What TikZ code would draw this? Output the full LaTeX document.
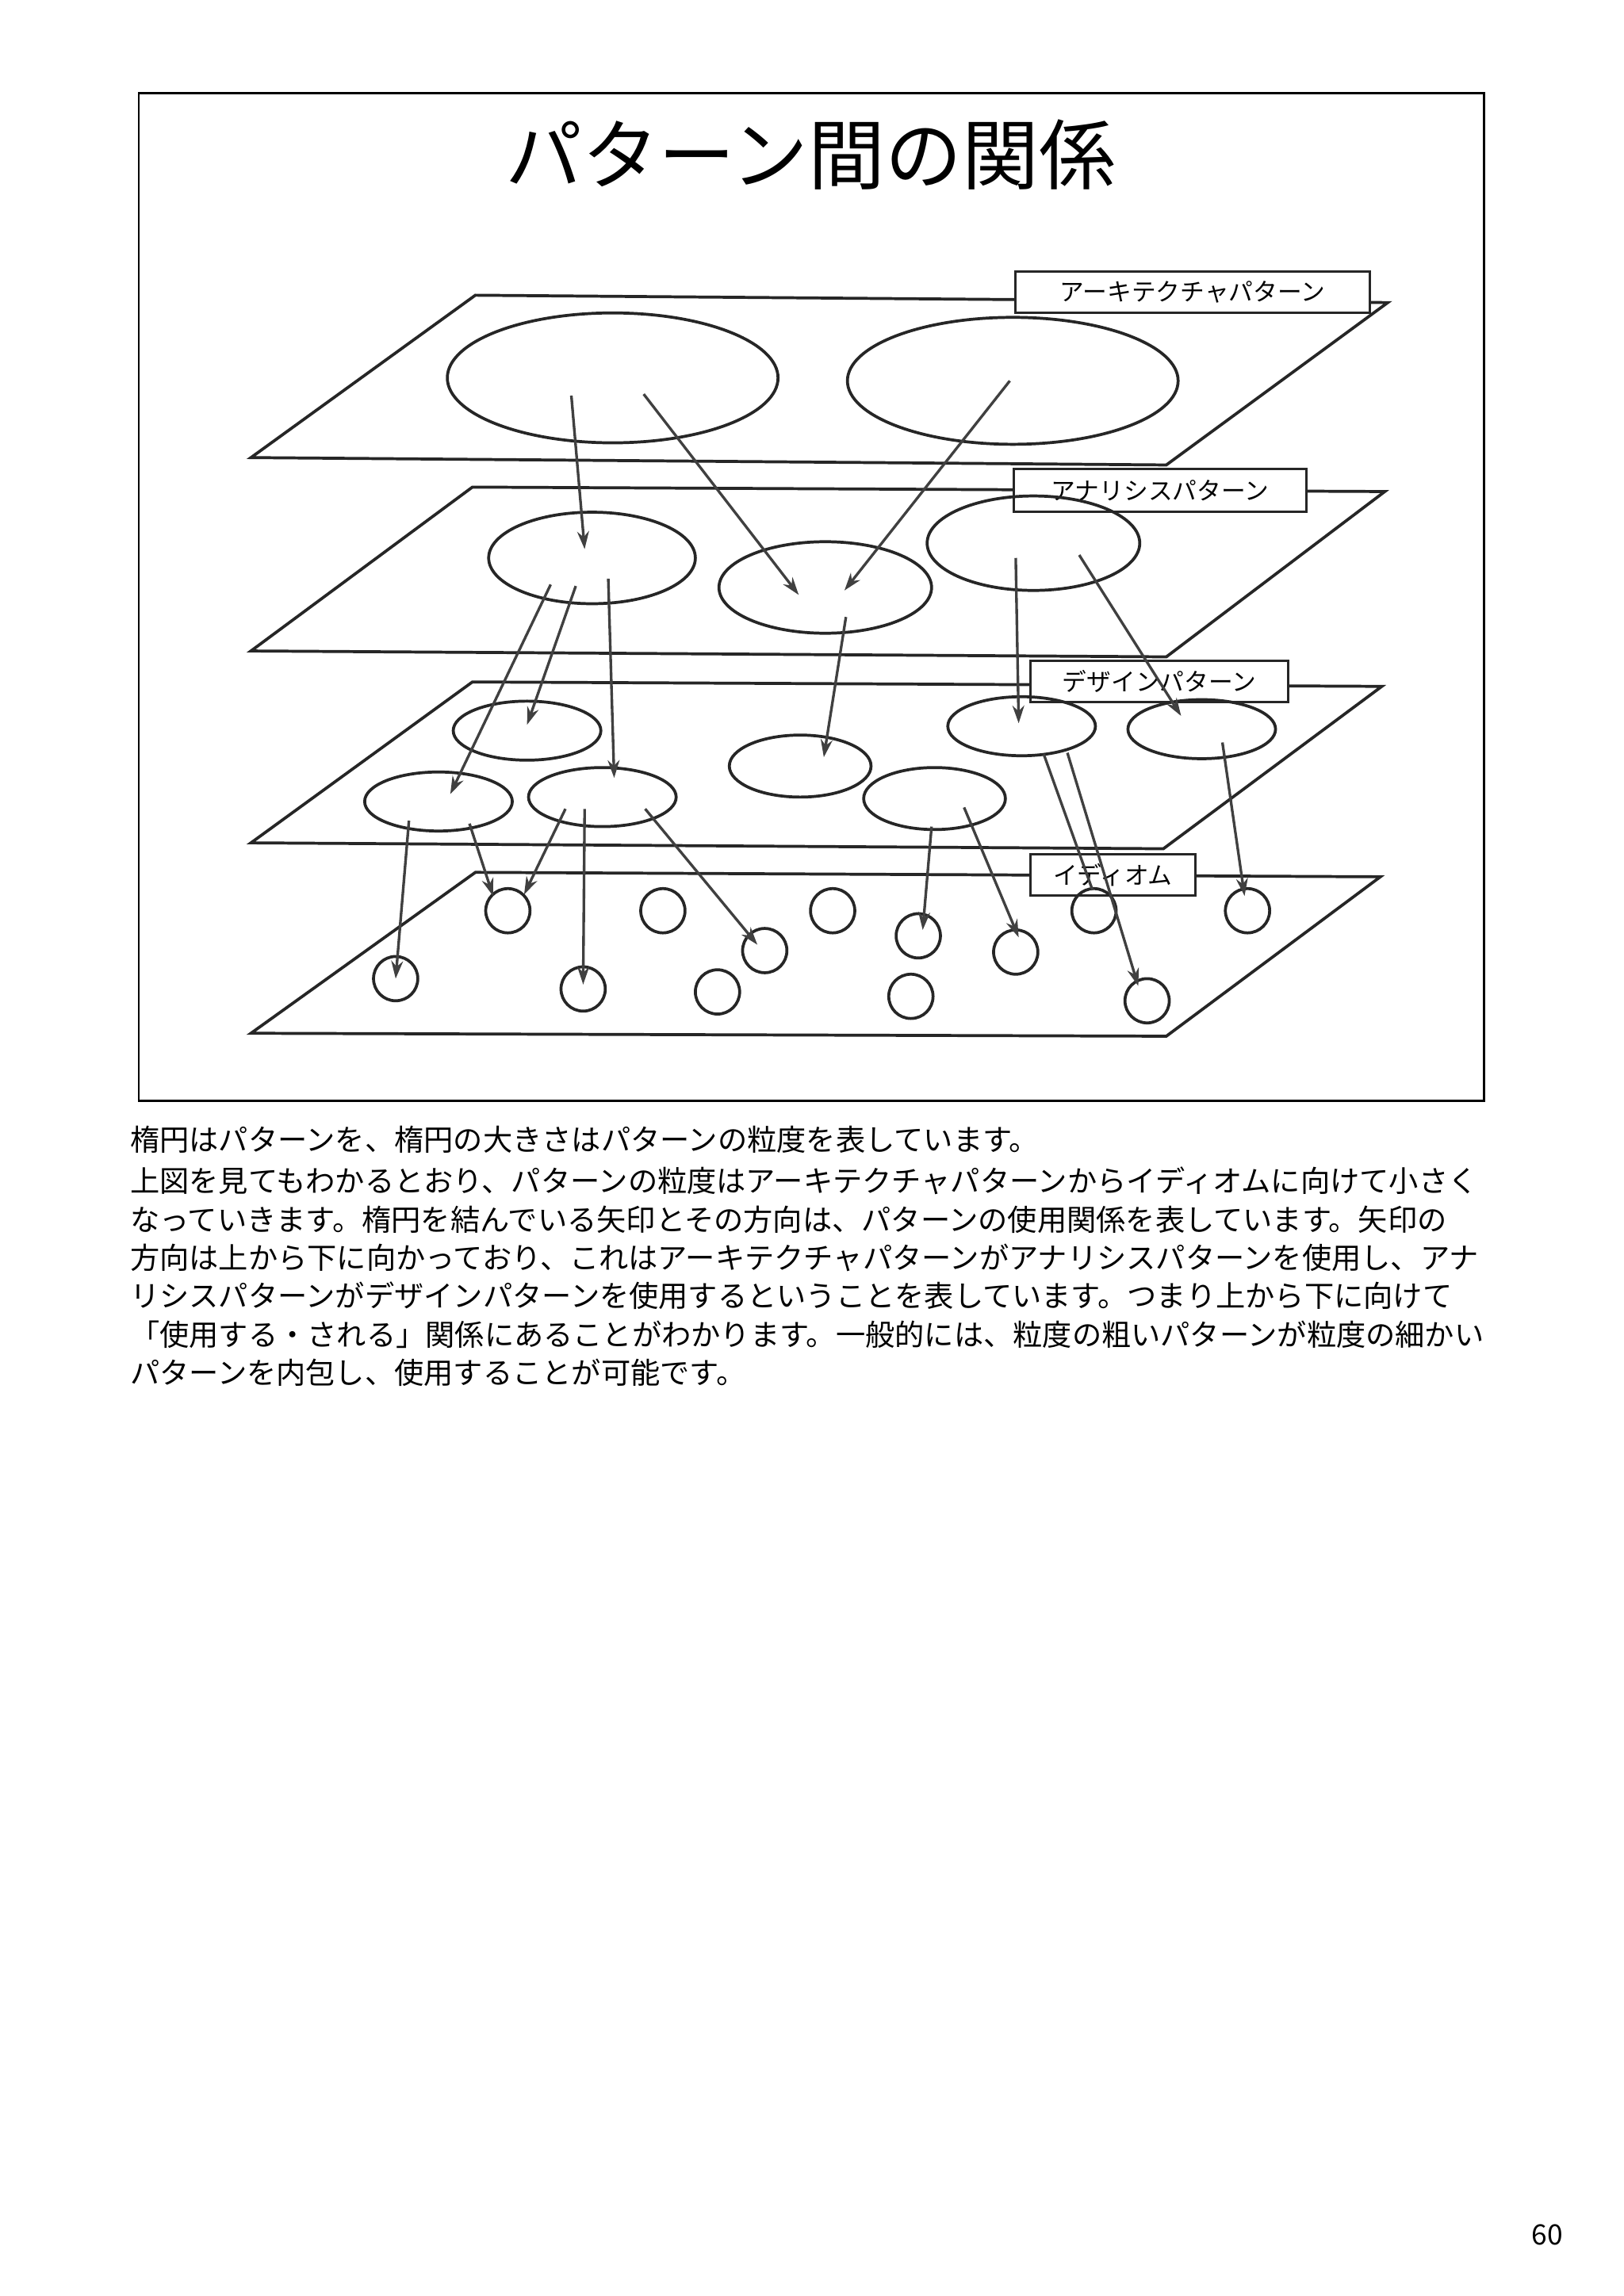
\documentclass[tikz,border=0pt]{standalone}
\usepackage{fontspec}
\setmainfont{Noto Sans CJK JP}
\usetikzlibrary{arrows.meta,calc}
\begin{document}
\begin{tikzpicture}[x=1pt,y=-1pt,
  pl/.style={draw=black!85,line width=2pt,line join=miter},
  el/.style={draw=black!85,line width=2pt},
  ar/.style={draw=black!75,line width=1.8pt,-{Stealth[length=12pt,width=8pt]}},
  lab/.style={draw=black!85,line width=1.6pt,fill=white,font=\fontsize{16.5}{16.5}\selectfont,inner sep=0pt,anchor=north west,align=center},
  body/.style={anchor=west,inner sep=0pt,font=\fontsize{20}{22}\selectfont}]
\useasboundingbox (0,0) rectangle (1100,1555.5);
\draw[line width=1.6pt] (94,63) rectangle (1005,746);
\node[font=\fontsize{52}{52}\selectfont] (title) at (549,105) {パターン間の関係};
% planes
\draw[pl] (170,310)--(322,200)--(940,205)--(790,315)--cycle;
\draw[pl] (170,441)--(320,330)--(938,333)--(790,445)--cycle;
\draw[pl] (170,571)--(320,462)--(936,465)--(788,575)--cycle;
\draw[pl] (170,700)--(322,591)--(935,594)--(790,702)--cycle;
\node[lab,minimum width=240pt,minimum height=28pt] (l1) at (687,183) {アーキテクチャパターン};
\node[lab,minimum width=198pt,minimum height=29pt] (l2) at (686,317) {アナリシスパターン};
\node[lab,minimum width=175pt,minimum height=28pt] (l3) at (697,447) {デザインパターン};
\node[lab,minimum width=112pt,minimum height=28pt] (l4) at (697,578) {イディオム};
% ellipses
\draw[el] (415,256) ellipse [x radius=112,y radius=44]; \coordinate (A1) at (415,256);
\draw[el] (686,258) ellipse [x radius=112,y radius=43]; \coordinate (A2) at (686,258);
\draw[el] (401,378) ellipse [x radius=70,y radius=31]; \coordinate (N1) at (401,378);
\draw[el] (559,398) ellipse [x radius=72,y radius=31]; \coordinate (N2) at (559,398);
\draw[el] (700,368) ellipse [x radius=72,y radius=32]; \coordinate (N3) at (700,368);
\draw[el] (357,495) ellipse [x radius=50,y radius=20]; \coordinate (D1) at (357,495);
\draw[el] (297,543) ellipse [x radius=50,y radius=20]; \coordinate (D2) at (297,543);
\draw[el] (408,540) ellipse [x radius=50,y radius=20]; \coordinate (D3) at (408,540);
\draw[el] (542,519) ellipse [x radius=48,y radius=21]; \coordinate (D4) at (542,519);
\draw[el] (633,541) ellipse [x radius=48,y radius=21]; \coordinate (D5) at (633,541);
\draw[el] (692,492) ellipse [x radius=50,y radius=20]; \coordinate (D6) at (692,492);
\draw[el] (814,494) ellipse [x radius=50,y radius=20]; \coordinate (D7) at (814,494);
\foreach \n/\x/\y in {i1/344/617,i2/449/617,i3/564/617,i4/622/634,i5/518/644,i6/688/645,i7/741/617,i8/845/617,i9/268/663,i10/395/670,i11/486/672,i12/617/675,i13/777/678}
  {\draw[el] (\x,\y) circle [radius=15]; \coordinate (\n) at (\x,\y);}
% arrows
\draw[ar] ($(A1)+(-28,12)$) -- ($(N1)+(-5,-6)$);
\draw[ar] ($(A1)+(21,11)$) -- ($(N2)+(-18,5)$);
\draw[ar] ($(A2)+(-2,0)$) -- ($(N2)+(13,2)$);
\draw[ar] ($(N1)+(-28,18)$) -- ($(D2)+(8,-5)$);
\draw[ar] ($(N1)+(-11,19)$) -- ($(D1)+(0,-4)$);
\draw[ar] ($(N1)+(11,14)$) -- ($(D3)+(8,-13)$);
\draw[ar] ($(N2)+(14,20)$) -- ($(D4)+(16,-6)$);
\draw[ar] ($(N3)+(-12,10)$) -- ($(D6)+(-2,-2)$);
\draw[ar] ($(N3)+(31,8)$) -- ($(D7)+(-14,-9)$);
\draw[ar] ($(D2)+(-20,13)$) -- (i9);
\draw[ar] ($(D2)+(21,15)$) -- ($(i1)+(-10,-10)$);
\draw[ar] ($(D3)+(-25,8)$) -- ($(i1)+(11,-11)$);
\draw[ar] ($(D3)+(-12,8)$) -- ($(i10)+(0,-3)$);
\draw[ar] ($(D3)+(29,8)$) -- ($(i5)+(-5,-4)$);
\draw[ar] ($(D5)+(-2,19)$) -- ($(i4)+(3,-4)$);
\draw[ar] ($(D5)+(20,6)$) -- ($(i6)+(2,-10)$);
\draw[draw=black!75,line width=1.8pt] ($(D6)+(15,19)$) -- ($(i7)+(-1,-14)$);
\draw[ar] ($(D6)+(31,18)$) -- ($(i13)+(-6,-10)$);
\draw[ar] ($(D7)+(14,9)$) -- ($(i8)+(-2,-10)$);
% text
\node[body] (t1) at (88,772) {楕円はパターンを、楕円の大きさはパターンの粒度を表しています。};
\node[body] (t2) at (88,800) {上図を見てもわかるとおり、パターンの粒度はアーキテクチャパターンからイディオムに向けて小さく};
\node[body] (t3) at (88,826) {なっていきます。楕円を結んでいる矢印とその方向は、パターンの使用関係を表しています。矢印の};
\node[body] (t4) at (88,852) {方向は上から下に向かっており、これはアーキテクチャパターンがアナリシスパターンを使用し、アナ};
\node[body] (t5) at (88,878) {リシスパターンがデザインパターンを使用するということを表しています。つまり上から下に向けて};
\node[body] (t6) at (88,904) {「使用する・される」関係にあることがわかります。一般的には、粒度の粗いパターンが粒度の細かい};
\node[body] (t7) at (88,930) {パターンを内包し、使用することが可能です。};
\node[anchor=center,inner sep=0pt,font=\fontsize{19}{22}\selectfont] (pg) at (1048,1514) {60};
\end{tikzpicture}
\end{document}
